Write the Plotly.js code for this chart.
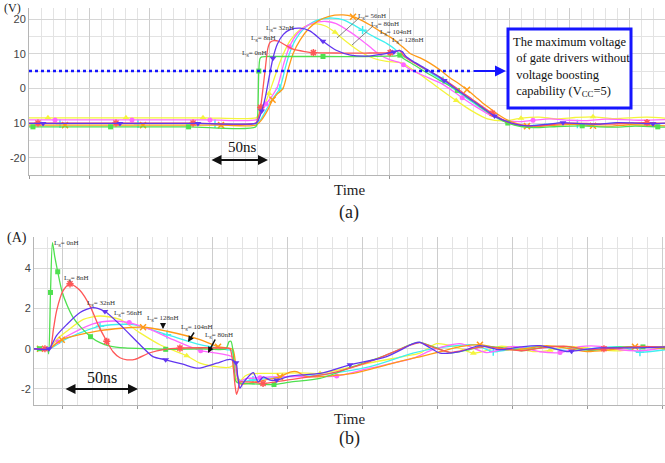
<!DOCTYPE html>
<html><head><meta charset="utf-8">
<script src="https://cdn.plot.ly/plotly-3.0.1.min.js"></script>
<style>html,body{margin:0;padding:0;background:#fff}#chart{width:665px;height:463px}</style>
</head><body><div id="chart"></div>
<script>
// ---------- DATA ----------
const inductances = ['0nH','8nH','32nH','56nH','80nH','104nH','128nH'];

// (a) gate voltage (V) vs time (ns)
const topT_0nH = [0,3.3,68,133,189,190.5,191.5,192.5,194,197,215,245,280,300,306,309,312,318,330,343,357,370,384,399,410,425,440,461,475,490,505,524,530];
const topV_0nH = [-11.1,-11.1,-11.1,-11.1,-11.1,-8,5,8.6,9.1,9.2,9.2,9.2,9.2,9.3,9.4,9.6,8.6,7.4,4.8,2.2,-0.6,-3.8,-7.2,-10.0,-11.0,-11.3,-11.0,-10.8,-11.1,-11.2,-10.9,-11.1,-11.2];
const topM_0nH = [1,2,3,6,11,15,20,23,27,31];

const topT_8nH = [0,7.5,72.5,136.7,189,191,193,195,197,199,201,204,208,213,220,230,237,260,280,301,306,309,312,318,330,345,358,372,386,398,410,425,440,455,470,485,500,515,530];
const topV_8nH = [-10,-10,-10,-10,-10,-8.5,-5.5,0,6,11.5,13.3,13.8,13.6,12.6,11.3,10.6,10.3,10.2,10.2,10.3,10.6,11.0,9.5,8.0,5.6,2.8,-0.3,-3.8,-7.2,-9.6,-10.6,-10.8,-10.3,-10.0,-10.2,-10.3,-10.0,-9.9,-10.1];
const topM_8nH = [1,2,3,6,16,19,28,37];

const topT_32nH = [0,11.7,75.8,140.8,189,191,193.9,197,200,203.3,207,212,218,226,234,245,256,268,281,295,304,308,311,314,320,332,346,360,374,388,402,415,430,445,460,475,490,505,520,530];
const topV_32nH = [-10.1,-10.1,-10.1,-10.1,-10.1,-9.3,-6.5,-2.5,3.0,8.7,12.8,15.6,17.0,17.4,16.6,13.6,11.0,9.6,9.3,9.9,10.5,10.9,10.6,9.3,7.8,5.4,2.3,-1.2,-4.6,-8.0,-10.0,-10.8,-10.4,-9.9,-10.2,-10.3,-9.9,-10.0,-10.2,-10.0];
const topM_32nH = [1,2,3,6,9,15,20,26,29,33,38];

const topT_56nH = [0,15.8,80.8,145,189,192,196,200,204,208,212,218,226,234,240,247,255,264,275,287,298,309,313,318,330,343,356,369,382,396,410,425,440,455,470,485,500,515,530];
const topV_56nH = [-8.5,-8.5,-8.5,-8.5,-8.5,-7.5,-5.0,-1.5,2.5,6.5,10.0,14.0,17.0,18.4,18.6,18.0,16.2,13.6,10.8,8.7,7.8,7.5,7.0,5.8,3.0,-0.3,-3.5,-6.5,-8.8,-9.4,-8.6,-8.3,-8.8,-8.4,-8.2,-8.7,-8.5,-8.3,-8.6];
const topM_56nH = [1,2,3,7,16,26,30,34];

const topT_80nH = [0,21.7,85.8,150.8,189,192,197.5,202,207,212,217,224,232,240,248,256,267.5,276,284,292,301,309,312,318,330,343,355,361,372,385,398,410,420,435,450,465,480,495,510,530];
const topV_80nH = [-9.1,-9.1,-9.1,-9.1,-9.1,-8.0,-4.5,-2.5,0.4,6.8,12.0,16.0,18.2,19.1,19.3,18.7,16.3,14.2,12.0,9.8,8.2,7.4,6.8,5.4,3.5,1.5,-1.2,-2.7,-5.2,-7.8,-9.3,-9.6,-9.2,-8.8,-9.2,-9.3,-8.9,-9.0,-9.2,-9.0];
const topM_80nH = [1,2,3,6,10,22,27,32];

const topT_104nH = [0,25.8,90.8,155,189,193,198,203,209,214,217,222,229,237,245,253,262,270,278,288,298,305,309,313,320,332,345,358,372,386,400,412,427,442,457,472,487,502,517,530];
const topV_104nH = [-10.2,-10.2,-10.2,-10.2,-10.2,-9.0,-6.0,-3.0,0,6.5,10.0,14.0,17.2,19.2,20.1,20.3,19.8,18.4,16.8,14.8,13.0,11.3,9.8,9.0,7.6,5.0,2.2,-1.2,-4.6,-7.8,-10.0,-10.8,-10.5,-10.1,-10.3,-10.4,-10.0,-10.1,-10.3,-10.1];
const topM_104nH = [1,2,3,8,18,26,34];

const topT_128nH = [0,30,95,160,189,194,199,203,207,211.7,216,220,226,233,241,250,261.7,270,278,284.2,292,300,306,309,312,318,326,334,343,351,358,365,372,378,385,392.5,400,406.7,415,425,440,455,470,485,500,515,530];
const topV_128nH = [-10.6,-10.6,-10.6,-10.6,-10.6,-9.0,-6.2,-3.3,-1.6,0,5.5,10.0,14.0,17.2,19.5,20.8,21.2,20.7,19.5,18.3,16.6,15.0,13.6,12.6,11.8,10.0,8.8,7.3,5.2,3.0,1.4,-0.4,-2.4,-4.2,-6.0,-7.9,-9.4,-10.2,-10.9,-11.0,-10.6,-10.4,-10.8,-10.9,-10.5,-10.6,-10.8];
const topM_128nH = [1,2,3,7,17,31,38,42];

// (b) gate current (A) vs time (ns)
const botT_0nH = [0,3.6,9,9.8,11.0,12.3,13.8,15.8,18.5,22,26,31.3,37.7,44,50.7,60.7,77.3,87.8,110.7,128,130,131.3,132.5,133.5,134.5,136,140.7,150,160,170.7,190.7,212.7,235.3,252.7,257.3,268,278,290,300,312,325,340,355,370,385,400,406,420.7];
const botI_0nH = [0,0,0,-0.25,2.8,5.28,4.6,3.83,2.9,2.17,1.56,1.06,0.6,0.3,0.13,0.04,0,-0.03,0,0,0.35,0.37,0,-1.0,-1.6,-1.7,-1.73,-1.76,-1.78,-1.66,-1.48,-0.89,-0.3,0.25,0.32,0.05,-0.2,-0.05,0.12,0.05,-0.1,0.08,0.1,-0.08,0.05,0.1,0.09,0.05];
const botM_0nH = [1,4,7,12,17,28,46];

const botT_8nH = [0,7.3,10.7,13,15.1,19.5,24,30.7,37.3,42.7,48.5,52.7,57.3,62,67.3,77.3,87.3,97.3,110.7,128,130.7,132.7,134,135,136,137.3,140.7,146,152.7,168.5,197.3,224,251.8,257.3,268,278,290,300,312,325,340,355,370,380,392,405,420.7];
const botI_8nH = [0,0,0,1.0,1.9,2.9,3.23,2.9,2.13,1.2,0.37,-0.15,-0.45,-0.55,-0.53,-0.2,-0.03,0.03,0.05,0.03,0,-0.8,-1.8,-2.27,-2.07,-1.66,-1.65,-1.65,-1.73,-1.56,-1.23,-0.64,0.2,0.3,0.02,-0.18,-0.02,0.1,0.02,-0.1,0.06,0.12,-0.05,0.0,0.06,0.12,0.08];
const botM_8nH = [1,6,10,17,28,43];

const botT_32nH = [0,10,15,21.8,30.7,39.3,47.3,57.3,70.7,79.3,87.8,99.3,109.3,121.8,130.7,134.7,135.7,137.3,139,141.8,146.2,149.5,152.9,157.3,161.8,170.7,190.7,210.7,235.1,252.9,257.3,264,270.7,284,297.3,310.7,324,337.3,355.1,358.4,377.3,399.3,420.7];
const botI_32nH = [0,0,0.65,1.2,1.8,2.05,1.85,1.2,0.2,-0.39,-0.55,-0.77,-0.97,-0.72,-0.53,-0.7,-1.3,-1.97,-1.76,-1.48,-1.19,-1.65,-1.4,-1.56,-1.56,-1.36,-1.23,-0.8,-0.39,0.25,0.32,0.05,-0.22,-0.14,0.15,-0.05,0.09,0.15,-0.14,-0.13,0.04,0.04,0.09];
const botM_32nH = [1,6,10,15,24,27,39];

const botT_56nH = [0,10.2,15,21.8,32.9,44,57.3,70.7,84,101.8,110.7,124,130.7,132.3,134.7,136.7,140.7,144,157.3,177.3,190.7,224,246,257.3,268.5,280.7,292.9,301.3,310.7,320.7,332.7,344,355.1,367.3,377.3,390.7,404,420.7];
const botI_56nH = [0,0,0.45,0.87,1.46,1.63,1.46,0.79,0.2,-0.35,-0.72,-0.92,-0.92,-0.85,-1.46,-1.66,-1.36,-1.25,-1.23,-1.2,-1.23,-0.7,-0.39,-0.22,0.25,0.1,-0.22,-0.1,0.12,0.05,-0.14,-0.08,0.12,0.05,-0.05,-0.1,0.05,0.12];
const botM_56nH = [9,20,26,31];

const botT_80nH = [0,10.2,16,21.8,39.3,52.7,63.5,77.3,92.7,111.1,121.8,130.7,132.7,134.7,136.7,141.8,150.7,157.3,177.3,201.8,224,252.9,266,284,301.8,319.5,337.3,350.7,364,377.3,390.7,404,420.7];
const botI_80nH = [0,0,0.35,0.62,1.24,1.38,1.3,0.96,0.45,-0.1,-0.22,-0.35,-0.43,-1.16,-1.61,-1.48,-1.45,-1.4,-1.39,-1.36,-0.97,-0.47,-0.05,0.25,-0.19,0.12,-0.15,-0.19,0.1,0.12,-0.05,-0.1,0.05];
const botM_80nH = [2,6,9,16,19,27];

const botT_104nH = [0,10.2,21.8,44,66,88.7,110.7,128.7,132,134,136,138.7,146,164,190.7,224,252.7,270.7,292.9,306.2,320.7,337.3,354,370.7,390.7,404,420.7];
const botI_104nH = [0,0,0.5,1.12,1.2,0.7,0.2,-0.05,-0.1,-0.8,-1.46,-1.61,-1.56,-1.41,-1.31,-0.89,-0.22,0.05,0.2,-0.14,0,0.12,-0.08,0,0.1,-0.17,-0.05];
const botM_104nH = [3,5,12,19,25];

const botT_128nH = [0,4,10.2,18.5,44,72.7,88.7,110.7,122.7,130.7,132.7,134.3,136,138,141.8,154,164,170.7,175.1,179.3,184,212.9,235.1,252.9,257.3,270.7,284,297.3,315.1,327.3,341.8,357.3,368.4,384,400.7,420.7];
const botI_128nH = [0,0,0,0.45,0.9,1.07,0.87,0.45,0.1,0.02,-0.05,-0.66,-1.46,-1.76,-1.73,-1.56,-1.4,-1.16,-1.14,-1.31,-1.4,-1.23,-0.8,-0.47,-0.4,-0.15,0.1,0.2,-0.05,0.0,0.15,0.0,-0.14,-0.05,0.1,0];
const botM_128nH = [1,3,5,8,16,27,34];

const topTickVals = [20,10,0,-10,-20];
const topTickText = ['20','10','0','10','-20'];
const botTickVals = [4,2,0,-2];
const botTickText = ['4','2','0','-2'];

// ---------- STYLE ----------
const colors  = ['#4fe04f','#ff5757','#6236f0','#f4f43c','#ff66ff','#40f0f0','#ff9a16'];
const symbols = ['square','asterisk-open','triangle-down','triangle-up','circle','cross-thin-open','x-thin-open'];
const msize   = [5,6,6,6,5,6,6];

const topSets = [[topT_0nH,topV_0nH,topM_0nH],[topT_8nH,topV_8nH,topM_8nH],[topT_32nH,topV_32nH,topM_32nH],[topT_56nH,topV_56nH,topM_56nH],[topT_80nH,topV_80nH,topM_80nH],[topT_104nH,topV_104nH,topM_104nH],[topT_128nH,topV_128nH,topM_128nH]];
const botSets = [[botT_0nH,botI_0nH,botM_0nH],[botT_8nH,botI_8nH,botM_8nH],[botT_32nH,botI_32nH,botM_32nH],[botT_56nH,botI_56nH,botM_56nH],[botT_80nH,botI_80nH,botM_80nH],[botT_104nH,botI_104nH,botM_104nH],[botT_128nH,botI_128nH,botM_128nH]];

const order = [3,5,4,6,0,1,2];
const traces = [];
function addSeries(sets, xa, ya){
  order.forEach(k=>{
    const [t,v,m] = sets[k];
    traces.push({type:'scatter',mode:'lines',x:t,y:v,xaxis:xa,yaxis:ya,name:'L_g='+inductances[k],
      line:{color:colors[k],width:1.3,shape:'spline',smoothing:0.7},hoverinfo:'skip'});
    const open = symbols[k].indexOf('open')>=0;
    traces.push({type:'scatter',mode:'markers',x:m.map(i=>t[i]),y:m.map(i=>v[i]),xaxis:xa,yaxis:ya,
      marker:{symbol:symbols[k],size:msize[k],color:colors[k],line:{color:colors[k],width:open?1.5:0}},hoverinfo:'skip'});
  });
}
addSeries(topSets,'x','y');
addSeries(botSets,'x2','y2');

const W=665,H=463;
const px=x=>x/W, py=y=>1-y/H;
const serif='Liberation Serif, Times New Roman, serif';
const sans='Liberation Sans, Arial, sans-serif';

const gridMaj='#cdcdcd', gridMin='#e3e3e3';
function xax(domain, range, tick0, minor0, anchor){
  return {domain, range, anchor, tickmode:'linear', tick0, dtick:50, showticklabels:false,
    ticks:'outside', ticklen:3, tickcolor:'#999', showgrid:true, gridcolor:gridMaj, gridwidth:1,
    minor:{tickmode:'linear', tick0:minor0, dtick:10, showgrid:true, gridcolor:gridMin, ticks:''},
    showline:true, linecolor:'#b5b5b5', linewidth:1, zeroline:false, fixedrange:true};
}
function yax(domain, range, vals, text, mdt, anchor){
  return {domain, range, anchor, tickmode:'array', tickvals:vals, ticktext:text,
    tickfont:{family:sans,size:11,color:'#444'}, ticks:'', showgrid:true, gridcolor:'#d6d6d6',
    minor:{tickmode:'linear', tick0:0, dtick:mdt, showgrid:true, gridcolor:gridMin, ticks:''},
    showline:true, linecolor:'#b5b5b5', linewidth:1, zeroline:false, fixedrange:true};
}

const txt = (t,x,y,size,color,family)=>({xref:'paper',yref:'paper',x:px(x),y:py(y),text:t,showarrow:false,
  xanchor:'center',yanchor:'middle',font:{family:family||serif,size:size,color:color||'#222'}});
const Lg = n=>'L<sub>g</sub>= '+n;
const lab = (n,x,y)=>txt(Lg(n),x,y,7,'#333');
const arr = (x,y,ax,ay,opts)=>Object.assign({xref:'paper',yref:'paper',x:px(x),y:py(y),ax,ay,text:'',showarrow:true,
  arrowhead:2,arrowsize:1,arrowwidth:2,arrowcolor:'#111'},opts||{});

const annotations = [
  txt('(V)',12,7.5,12),
  txt('(A)',17,238,14),
  txt('Time',349,190,15),
  txt('(a)',349,212,18),
  txt('Time',349,419,15),
  txt('(b)',349,438,18),
  txt('50ns',242,147,15,'#111'),
  txt('50ns',102,377,16,'#111'),
  arr(268,160,-58,0,{arrowside:'end+start'}),
  arr(138,389,-74,0,{arrowside:'end+start'}),
  arr(506,71,-34,0,{arrowsize:1.1,arrowcolor:'#1515ff'}),
  {xref:'paper',yref:'paper',x:px(511),y:py(67),xanchor:'left',yanchor:'middle',align:'left',showarrow:false,
   text:'The maximum voltage<br>\u00a0of gate drivers without<br>\u00a0voltage boosting<br>\u00a0capability (V<sub>CC</sub>=5)',
   font:{family:serif,size:12.5,color:'#111'}},
  lab('0nH',254,53), lab('8nH',263,38), lab('32nH',280,28),
  lab('56nH',372,16), lab('80nH',385,24), lab('104nH',396,32), lab('128nH',408,40),
  lab('0nH',66,243), lab('8nH',76,278), lab('32nH',101,303), lab('56nH',128,313),
  lab('128nH',163,318), lab('104nH',197,327), lab('80nH',219,335),
  arr(163,329,0,-7,{arrowsize:0.8,arrowwidth:1.5}),
  arr(188,342,7,-11,{arrowsize:0.8,arrowwidth:1.5}),
  arr(208,353,8,-15,{arrowsize:0.8,arrowwidth:1.5})
];

const shapes = [
  {type:'line',xref:'x',yref:'y',x0:0,x1:369,y0:5,y1:5,line:{color:'#1515ff',width:2.5,dash:'dot'}},
  {type:'rect',xref:'paper',yref:'paper',x0:px(508),x1:px(631),y0:py(29),y1:py(108),line:{color:'#1515ff',width:3},fillcolor:'#fff',layer:'above'},
  {type:'line',xref:'paper',yref:'paper',x0:px(359),y0:py(18),x1:px(337),y1:py(38),line:{color:'#666',width:0.8}},
  {type:'line',xref:'paper',yref:'paper',x0:px(373),y0:py(26),x1:px(352),y1:py(45),line:{color:'#666',width:0.8}}
];

const layout = {
  width:W,height:H,margin:{l:0,r:0,t:0,b:0},showlegend:false,
  paper_bgcolor:'#fff',plot_bgcolor:'#fff',
  xaxis: xax([29/W,1],[0,530],0,0,'y'),
  yaxis: yax([py(175),py(8)],[-25,23.2],topTickVals,topTickText,5,'x'),
  xaxis2: xax([34/W,1],[0,420.7],19.3,9.3,'y2'),
  yaxis2: yax([py(405),py(237)],[-2.8,5.56],botTickVals,botTickText,1,'x2'),
  annotations, shapes
};

Plotly.newPlot('chart',traces,layout,{staticPlot:true,displayModeBar:false});
</script></body></html>
